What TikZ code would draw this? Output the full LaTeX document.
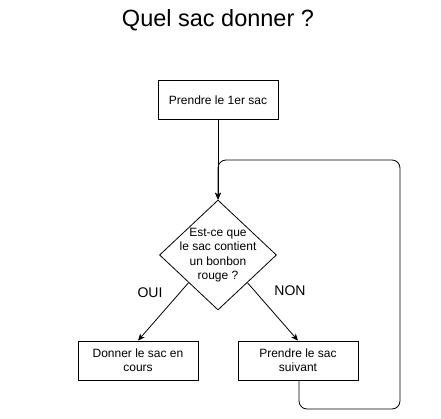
\documentclass[tikz,border=0pt]{standalone}
\usepackage{fontspec}
\setmainfont{Liberation Sans}
\usetikzlibrary{shapes.geometric,arrows.meta}
\begin{document}
\begin{tikzpicture}[x=1pt,y=-1pt,
  box/.style={draw,line width=0.8pt,minimum width=120pt,minimum height=39pt,align=center,font=\fontsize{12}{14}\selectfont,inner sep=2pt},
  decision/.style={draw,line width=0.8pt,diamond,minimum width=117pt,minimum height=110pt,inner sep=0pt},
  dectext/.style={align=center,font=\fontsize{12}{14.5}\selectfont,inner sep=0pt},
  conn/.style={draw,line width=0.8pt,-{Stealth[length=7pt,width=6pt]}},
  lbl/.style={font=\fontsize{14}{16}\selectfont}]
\useasboundingbox (0,0) rectangle (441,419);
\node[font=\fontsize{23.5}{26}\selectfont] (title) at (218,20) {Quel sac donner ?};
\node[box] (first) at (218,100) {Prendre le 1er sac};
\node[decision] (dec) at (218,255) {};
\node[dectext] (dect) at (218,255) {Est-ce que\\le sac contient\\un bonbon\\rouge ?};
\node[box] (give) at (138,360.5) {Donner le sac en\\cours};
\node[box] (next) at (298,360.5) {Prendre le sac\\suivant};
\path (dec.west) -- (dec.south) coordinate[pos=0.5] (ouistart);
\path (dec.east) -- (dec.south) coordinate[pos=0.5] (nonstart);
\draw[conn] (first) -- (dec.north);
\draw[conn] (ouistart) -- (give.north);
\draw[conn] (nonstart) -- (next.north);
\draw[conn,rounded corners=8pt] (next.south -| 299,0) -- (299,409) -- (400,409) -- (400,160) -- (218,160) -- (dec.north);
\node[lbl] (ouilbl) at (150,293) {OUI};
\node[lbl] (nonlbl) at (290,291) {NON};
\end{tikzpicture}
\end{document}
